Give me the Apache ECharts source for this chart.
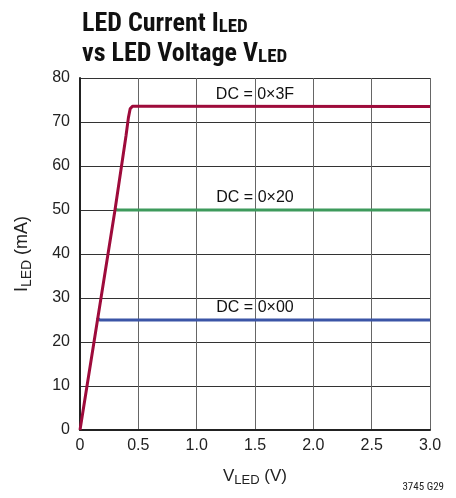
<!DOCTYPE html>
<html><head><meta charset="utf-8">
<script src="https://cdn.jsdelivr.net/npm/echarts@6/dist/echarts.min.js"></script>
<style>html,body{margin:0;padding:0;background:#fff}#c{width:456px;height:498px}</style>
</head><body><div id="c"></div>
<script>
const xTicks = [0, 0.5, 1.0, 1.5, 2.0, 2.5, 3.0];
const yTicks = [0, 10, 20, 30, 40, 50, 60, 70, 80];
const curve3F = [[0,0],[0.15,25],[0.3,50],[0.395,67],[0.415,71],[0.43,73],[0.45,73.6],[0.5,73.6],[3.0,73.5]];
const curve20 = [[0.3,50.2],[0.32,50],[3.0,50]];
const curve00 = [[0.145,25.5],[0.17,25],[3.0,25]];
const seriesNames = ['DC = 0×3F', 'DC = 0×20', 'DC = 0×00'];
const labelPos = [[1.5,73.5],[1.5,50],[1.5,25]];
const colors = ['#9e0b3b', '#3d9a5c', '#3b55a6'];
const fontCond = '"Liberation Sans Narrow", "Roboto Condensed", "Liberation Sans", Arial, sans-serif';
const font = '"Liberation Sans Narrow", "Liberation Sans", Arial, sans-serif';

const chart = echarts.init(document.getElementById('c'));
function mk(name, data, color, pos, z) {
  return {
    name, type: 'line', data, showSymbol: false, smooth: false, z,
    lineStyle: { color, width: 3 },
    markPoint: {
      symbol: 'circle', symbolSize: 0,
      data: [{ coord: pos }],
      label: { show: true, formatter: name, position: 'top', distance: 4,
               color: '#111', fontSize: 16, fontFamily: font }
    }
  };
}
chart.setOption({
  animation: false,
  title: {
    left: 77, top: 2,
    text: '{a|LED Current I}{s|LED}\n{a|vs LED Voltage V}{s|LED}',
    textStyle: {
      rich: {
        a: { fontSize: 26, fontWeight: 'bold', fontFamily: fontCond, color: '#111', lineHeight: 30, verticalAlign: 'bottom' },
        s: { fontSize: 19, fontWeight: 'bold', fontFamily: fontCond, color: '#111', lineHeight: 30, padding: [9,0,0,0], verticalAlign: 'bottom' }
      }
    }
  },
  grid: { left: 80, right: 26, top: 78, bottom: 68, containLabel: false },
  xAxis: {
    type: 'value', min: 0, max: 3, interval: 0.5,
    axisLine: { show: true, lineStyle: { color: '#222', width: 2 } },
    axisTick: { show: false },
    axisLabel: { color: '#222', fontSize: 16, fontFamily: font, margin: 8,
      formatter: v => v === 0 ? '0' : v.toFixed(1) },
    splitLine: { show: true, lineStyle: { color: '#666', width: 1 } },
    name: '{a|V}{s|LED}{a| (V)}', nameLocation: 'middle', nameGap: 36,
    nameTextStyle: { rich: {
      a: { fontSize: 17, fontFamily: font, color: '#222' },
      s: { fontSize: 13, fontFamily: font, color: '#222', padding: [8,0,0,0] }
    } }
  },
  yAxis: {
    type: 'value', min: 0, max: 80, interval: 10,
    axisLine: { show: true, lineStyle: { color: '#222', width: 2 } },
    axisTick: { show: false },
    axisLabel: { color: '#222', fontSize: 16, fontFamily: font, margin: 10 },
    splitLine: { show: true, lineStyle: { color: '#333', width: 1 } },
    name: '{a|I}{s|LED}{a| (mA)}', nameLocation: 'middle', nameGap: 46, nameRotate: 90,
    nameTextStyle: { rich: {
      a: { fontSize: 18, fontFamily: font, color: '#222' },
      s: { fontSize: 14, fontFamily: font, color: '#222', padding: [9,0,0,0] }
    } }
  },
  graphic: [{ type: 'text', right: 12, bottom: 5,
    style: { text: '3745 G29', fontSize: 11, fontFamily: fontCond, fill: '#222' } }],
  series: [
    mk(seriesNames[1], curve20, colors[1], labelPos[1], 2),
    mk(seriesNames[2], curve00, colors[2], labelPos[2], 2),
    mk(seriesNames[0], curve3F, colors[0], labelPos[0], 3)
  ]
});
</script></body></html>
